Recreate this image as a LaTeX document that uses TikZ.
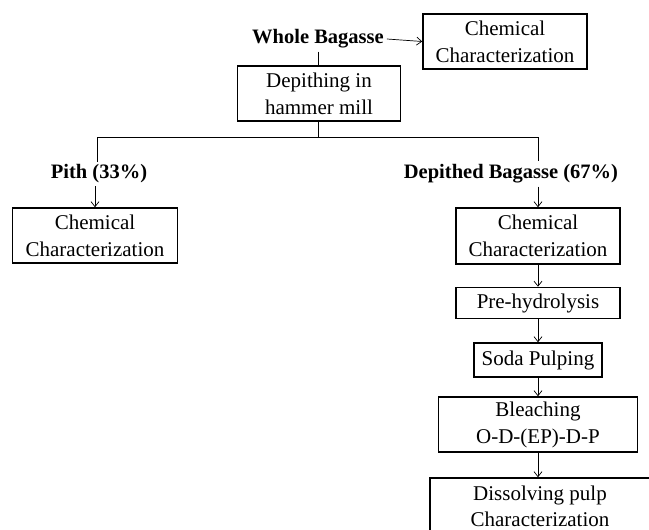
\documentclass[tikz,border=0pt]{standalone}
\usepackage{fontspec}
\setmainfont{Liberation Serif}
\usepackage{tikz}
\usetikzlibrary{arrows.meta}

\begin{document}
\begin{tikzpicture}[
  x=1pt, y=-1pt,
  font=\fontsize{21}{27}\selectfont
]
\tikzset{
    stepbox/.style = {rectangle, draw=black, line width=1.6pt, align=center, inner sep=2pt},
    labeltext/.style = {font=\fontsize{20.5}{26}\selectfont\bfseries, inner sep=3pt},
    link/.style = {draw=black, line width=0.7pt},
    arrowlink/.style = {link, -{Straight Barb[length=5pt,width=8pt]}}
}
\clip (0,0) rectangle (649,530);
% top part
\node[labeltext] (whole) at (318,39) {Whole Bagasse};
\node[stepbox,minimum width=164pt,minimum height=55pt] (topchem) at (505,41.5) {Chemical\\Characterization};
\node[stepbox,minimum width=163pt,minimum height=55pt] (depith) at (319,93.5) {Depithing in\\hammer mill};
\coordinate (split) at (318,137);
\coordinate (leftend) at (97,137);
\coordinate (rightend) at (538,137);
% pith branch
\node[labeltext] (pith) at (99,174) {Pith (33\%)};
\node[stepbox,minimum width=165pt,minimum height=55pt] (pithchem) at (95,235.5) {Chemical\\Characterization};
% depithed branch
\node[labeltext] (dep) at (511,174) {Depithed Bagasse (67\%)};
\node[stepbox,minimum width=164pt,minimum height=56pt] (chem) at (538,236) {Chemical\\Characterization};
\node[stepbox,minimum width=164pt,minimum height=31pt] (prehyd) at (538,303) {Pre-hydrolysis};
\node[stepbox,minimum width=128pt,minimum height=34pt] (soda) at (538,360) {Soda Pulping};
\node[stepbox,minimum width=199pt,minimum height=55pt] (bleach) at (538,424.5) {Bleaching\\O-D-(EP)-D-P};
\node[stepbox,minimum width=220pt,minimum height=56pt,font=\fontsize{21}{26}\selectfont] (dissolve) at (540,506) {Dissolving pulp\\Characterization};
% connectors
\draw[arrowlink] (whole.east) -- (topchem.west);
\draw[link] (whole.south) -- (whole.south |- depith.north);
\draw[link] (depith.south -| split) -- (split);
\draw[link] (leftend) -- (rightend);
\draw[link] (leftend) -- (leftend |- pith.north);
\draw[link] (rightend) -- (rightend |- dep.north);
\draw[arrowlink] (pith.south -| pithchem.north) -- (pithchem.north);
\draw[arrowlink] (dep.south -| chem.north) -- (chem.north);
\draw[arrowlink] (chem.south) -- (prehyd.north);
\draw[arrowlink] (prehyd.south) -- (soda.north);
\draw[arrowlink] (soda.south) -- (bleach.north);
\draw[arrowlink] (bleach.south) -- (bleach.south |- dissolve.north);
\end{tikzpicture}
\end{document}
